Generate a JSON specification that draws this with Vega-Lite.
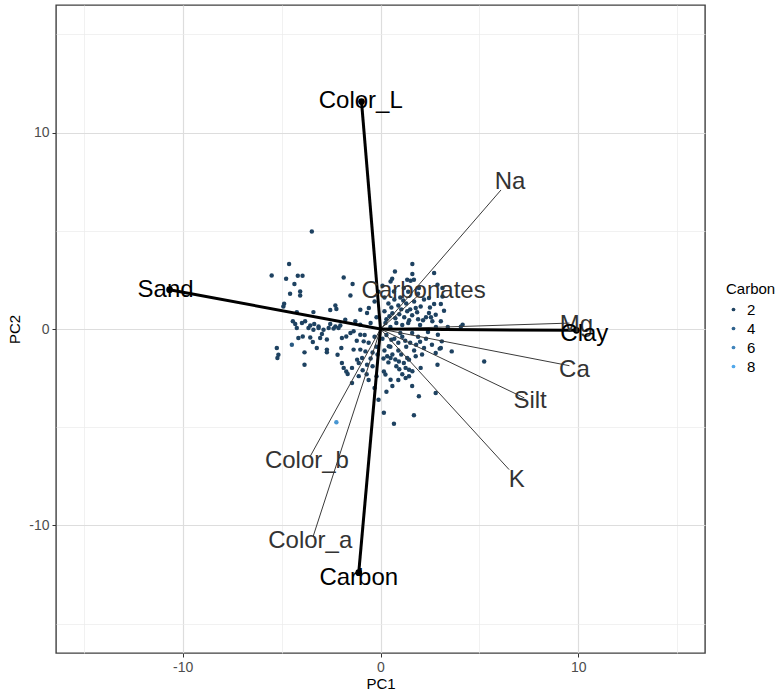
{
  "$schema": "https://vega.github.io/schema/vega-lite/v6.json",
  "width": 649,
  "height": 648,
  "autosize": {"type": "none"},
  "padding": {"left": 56, "top": 5, "right": 75, "bottom": 41},
  "background": "white",
  "config": {"view": {"stroke": "#404040", "strokeWidth": 1.4}, "font": "Liberation Sans"},
  "datasets": {
    "scores": [
      {"PC1": -3.47, "PC2": 4.96, "Carbon": 2}, {"PC1": -4.62, "PC2": 3.31, "Carbon": 2}, {"PC1": -5.5, "PC2": 2.73, "Carbon": 2},
      {"PC1": -4.77, "PC2": 2.56, "Carbon": 2}, {"PC1": -4.18, "PC2": 2.71, "Carbon": 2}, {"PC1": -3.94, "PC2": 2.71, "Carbon": 2},
      {"PC1": -4.35, "PC2": 2.29, "Carbon": 2}, {"PC1": -4.57, "PC2": 1.8, "Carbon": 2}, {"PC1": -4.06, "PC2": 1.91, "Carbon": 2},
      {"PC1": -4.06, "PC2": 1.71, "Carbon": 2}, {"PC1": -1.86, "PC2": 2.62, "Carbon": 2}, {"PC1": -1.41, "PC2": 2.29, "Carbon": 2},
      {"PC1": -1.52, "PC2": 1.71, "Carbon": 2}, {"PC1": -4.87, "PC2": 1.29, "Carbon": 2}, {"PC1": -4.91, "PC2": 1.15, "Carbon": 2},
      {"PC1": -2.28, "PC2": 1.2, "Carbon": 2}, {"PC1": -2.54, "PC2": 0.97, "Carbon": 2}, {"PC1": -3.39, "PC2": 0.86, "Carbon": 2},
      {"PC1": -4.23, "PC2": 0.86, "Carbon": 2}, {"PC1": -1.02, "PC2": 0.98, "Carbon": 2}, {"PC1": -0.68, "PC2": 0.81, "Carbon": 2},
      {"PC1": -0.59, "PC2": 1.07, "Carbon": 2}, {"PC1": -2.23, "PC2": 1.02, "Carbon": 2}, {"PC1": -4.43, "PC2": 0.39, "Carbon": 2},
      {"PC1": -4.31, "PC2": 0.25, "Carbon": 2}, {"PC1": -3.97, "PC2": 0.31, "Carbon": 2}, {"PC1": -3.81, "PC2": 0.39, "Carbon": 2},
      {"PC1": -3.55, "PC2": 0.18, "Carbon": 2}, {"PC1": -3.35, "PC2": 0.25, "Carbon": 2}, {"PC1": -3.13, "PC2": 0.13, "Carbon": 2},
      {"PC1": -2.54, "PC2": 0.25, "Carbon": 2}, {"PC1": -2.28, "PC2": 0.13, "Carbon": 2}, {"PC1": -1.78, "PC2": 0.47, "Carbon": 2},
      {"PC1": -2.03, "PC2": 0.18, "Carbon": 2}, {"PC1": -1.27, "PC2": 0.39, "Carbon": 2}, {"PC1": -1.02, "PC2": 0.22, "Carbon": 2},
      {"PC1": -4.23, "PC2": 0.05, "Carbon": 2}, {"PC1": -3.64, "PC2": 0.05, "Carbon": 2}, {"PC1": -3.39, "PC2": -0.04, "Carbon": 2},
      {"PC1": -3.13, "PC2": 0.05, "Carbon": 2}, {"PC1": -2.88, "PC2": -0.04, "Carbon": 2}, {"PC1": -2.62, "PC2": 0.05, "Carbon": 2},
      {"PC1": -2.37, "PC2": 0.02, "Carbon": 2}, {"PC1": -2.12, "PC2": 0.05, "Carbon": 2},
      {"PC1": -4.15, "PC2": -0.46, "Carbon": 2}, {"PC1": -3.93, "PC2": -0.38, "Carbon": 2}, {"PC1": -3.55, "PC2": -0.43, "Carbon": 2},
      {"PC1": -3.42, "PC2": -0.66, "Carbon": 2}, {"PC1": -3.22, "PC2": -0.97, "Carbon": 2}, {"PC1": -3.05, "PC2": -0.46, "Carbon": 2},
      {"PC1": -2.96, "PC2": -0.25, "Carbon": 2}, {"PC1": -2.71, "PC2": -1.05, "Carbon": 2}, {"PC1": -2.71, "PC2": -1.18, "Carbon": 2},
      {"PC1": -2.71, "PC2": -0.54, "Carbon": 2}, {"PC1": -1.98, "PC2": -0.97, "Carbon": 2}, {"PC1": -2.17, "PC2": -1.31, "Carbon": 2},
      {"PC1": -1.95, "PC2": -1.73, "Carbon": 2}, {"PC1": -1.86, "PC2": -1.98, "Carbon": 2}, {"PC1": -1.73, "PC2": -2.16, "Carbon": 2},
      {"PC1": -1.66, "PC2": -2.29, "Carbon": 2}, {"PC1": -1.44, "PC2": -1.98, "Carbon": 2}, {"PC1": -1.36, "PC2": -1.05, "Carbon": 2},
      {"PC1": -1.02, "PC2": -1.05, "Carbon": 2}, {"PC1": -1.18, "PC2": -1.56, "Carbon": 2}, {"PC1": -1.1, "PC2": -1.73, "Carbon": 2},
      {"PC1": -1.44, "PC2": -2.75, "Carbon": 2}, {"PC1": -1.95, "PC2": -0.46, "Carbon": 2}, {"PC1": -1.73, "PC2": -0.38, "Carbon": 2},
      {"PC1": -1.52, "PC2": -0.2, "Carbon": 2}, {"PC1": -1.36, "PC2": -0.12, "Carbon": 2},
      {"PC1": -5.24, "PC2": -0.97, "Carbon": 2}, {"PC1": -5.16, "PC2": -1.31, "Carbon": 2}, {"PC1": -5.21, "PC2": -1.48, "Carbon": 2},
      {"PC1": -4.48, "PC2": -0.8, "Carbon": 3.5}, {"PC1": -3.84, "PC2": -1.19, "Carbon": 2}, {"PC1": -3.84, "PC2": -1.82, "Carbon": 2},
      {"PC1": -2.23, "PC2": -4.75, "Carbon": 7},
      {"PC1": -1.02, "PC2": -0.29, "Carbon": 2}, {"PC1": -0.85, "PC2": -0.63, "Carbon": 2}, {"PC1": -0.76, "PC2": -1.14, "Carbon": 2},
      {"PC1": -0.93, "PC2": -1.48, "Carbon": 2}, {"PC1": -0.68, "PC2": -1.82, "Carbon": 2},
      {"PC1": 1.61, "PC2": 3.31, "Carbon": 2}, {"PC1": 0.73, "PC2": 2.93, "Carbon": 2}, {"PC1": 1.61, "PC2": 2.8, "Carbon": 2},
      {"PC1": 2.71, "PC2": 2.85, "Carbon": 2}, {"PC1": 1.69, "PC2": 2.51, "Carbon": 2}, {"PC1": 1.18, "PC2": 2.09, "Carbon": 2},
      {"PC1": 1.94, "PC2": 2.09, "Carbon": 2}, {"PC1": 3.13, "PC2": 2.09, "Carbon": 2}, {"PC1": 2.45, "PC2": 1.58, "Carbon": 2},
      {"PC1": 3.13, "PC2": 1.66, "Carbon": 2}, {"PC1": 0.59, "PC2": 2.56, "Carbon": 2}, {"PC1": 0.51, "PC2": 2.42, "Carbon": 2},
      {"PC1": 1.35, "PC2": 2.51, "Carbon": 2}, {"PC1": 1.52, "PC2": 2.46, "Carbon": 2}, {"PC1": 2.88, "PC2": 2.25, "Carbon": 2},
      {"PC1": 0.68, "PC2": 1.91, "Carbon": 2}, {"PC1": 2.71, "PC2": 1.27, "Carbon": 2}, {"PC1": 3.05, "PC2": 1.27, "Carbon": 2},
      {"PC1": 3.21, "PC2": 0.93, "Carbon": 2}, {"PC1": 2.45, "PC2": 0.81, "Carbon": 2}, {"PC1": 2.79, "PC2": 0.73, "Carbon": 2},
      {"PC1": 1.78, "PC2": 1.07, "Carbon": 2}, {"PC1": 2.03, "PC2": 1.15, "Carbon": 2}, {"PC1": 2.62, "PC2": 0.39, "Carbon": 2},
      {"PC1": 3.05, "PC2": 0.39, "Carbon": 2}, {"PC1": 4.15, "PC2": 0.22, "Carbon": 2}, {"PC1": 4.06, "PC2": 0.12, "Carbon": 2},
      {"PC1": 0.3, "PC2": 0.5, "Carbon": 2}, {"PC1": 0.6, "PC2": 0.8, "Carbon": 2}, {"PC1": 0.9, "PC2": 1.2, "Carbon": 2},
      {"PC1": 1.2, "PC2": 0.6, "Carbon": 2}, {"PC1": 1.5, "PC2": 1.0, "Carbon": 2}, {"PC1": 0.4, "PC2": 1.3, "Carbon": 2},
      {"PC1": 1.0, "PC2": 1.6, "Carbon": 2}, {"PC1": 1.9, "PC2": 0.5, "Carbon": 2}, {"PC1": 2.2, "PC2": 1.5, "Carbon": 2},
      {"PC1": 1.4, "PC2": 1.9, "Carbon": 2}, {"PC1": 0.2, "PC2": 0.9, "Carbon": 2}, {"PC1": 0.8, "PC2": 0.3, "Carbon": 2},
      {"PC1": 1.7, "PC2": 1.4, "Carbon": 2}, {"PC1": 2.5, "PC2": 1.1, "Carbon": 2}, {"PC1": 2.0, "PC2": 0.2, "Carbon": 2},
      {"PC1": 1.1, "PC2": 0.2, "Carbon": 2}, {"PC1": 0.5, "PC2": 0.1, "Carbon": 2}, {"PC1": 2.8, "PC2": 0.1, "Carbon": 2},
      {"PC1": 3.4, "PC2": 0.1, "Carbon": 2}, {"PC1": 1.3, "PC2": 1.3, "Carbon": 2}, {"PC1": 0.2, "PC2": 1.6, "Carbon": 2},
      {"PC1": -0.3, "PC2": 1.4, "Carbon": 2}, {"PC1": -0.2, "PC2": 0.6, "Carbon": 2}, {"PC1": -0.5, "PC2": 0.3, "Carbon": 2},
      {"PC1": 0.1, "PC2": 2.2, "Carbon": 2}, {"PC1": -0.1, "PC2": 1.9, "Carbon": 2}, {"PC1": 1.6, "PC2": 0.7, "Carbon": 2},
      {"PC1": 2.3, "PC2": 0.6, "Carbon": 2}, {"PC1": 0.7, "PC2": 1.5, "Carbon": 2}, {"PC1": 1.9, "PC2": 1.8, "Carbon": 2},
      {"PC1": 0.45, "PC2": 0.65, "Carbon": 2}, {"PC1": 0.95, "PC2": 0.75, "Carbon": 2}, {"PC1": 1.35, "PC2": 0.9, "Carbon": 2},
      {"PC1": 1.05, "PC2": 1.0, "Carbon": 2}, {"PC1": 0.55, "PC2": 1.1, "Carbon": 2}, {"PC1": 1.85, "PC2": 0.85, "Carbon": 2},
      {"PC1": 2.15, "PC2": 0.45, "Carbon": 2}, {"PC1": 0.25, "PC2": 0.3, "Carbon": 2}, {"PC1": 0.75, "PC2": 0.55, "Carbon": 2},
      {"PC1": 1.45, "PC2": 0.45, "Carbon": 2}, {"PC1": 2.55, "PC2": 0.6, "Carbon": 2}, {"PC1": 1.15, "PC2": 1.45, "Carbon": 2},
      {"PC1": 2.9, "PC2": -0.29, "Carbon": 2}, {"PC1": 3.1, "PC2": -0.63, "Carbon": 2}, {"PC1": 3.6, "PC2": -1.14, "Carbon": 2},
      {"PC1": 2.99, "PC2": -1.0, "Carbon": 2}, {"PC1": 2.79, "PC2": -1.22, "Carbon": 2}, {"PC1": 2.88, "PC2": -1.82, "Carbon": 2},
      {"PC1": 1.78, "PC2": -1.39, "Carbon": 2}, {"PC1": 2.2, "PC2": -0.97, "Carbon": 2}, {"PC1": 0.42, "PC2": -0.88, "Carbon": 2},
      {"PC1": 0.34, "PC2": -1.39, "Carbon": 2}, {"PC1": 0.51, "PC2": -1.48, "Carbon": 2}, {"PC1": 0.93, "PC2": -1.65, "Carbon": 2},
      {"PC1": 1.18, "PC2": -1.73, "Carbon": 2}, {"PC1": 1.35, "PC2": -1.48, "Carbon": 2}, {"PC1": 1.44, "PC2": -1.56, "Carbon": 2},
      {"PC1": 1.27, "PC2": -1.98, "Carbon": 2}, {"PC1": 1.44, "PC2": -2.07, "Carbon": 2}, {"PC1": 1.27, "PC2": -2.49, "Carbon": 2},
      {"PC1": 1.44, "PC2": -2.41, "Carbon": 2}, {"PC1": 0.17, "PC2": -2.16, "Carbon": 2}, {"PC1": 0.25, "PC2": -2.32, "Carbon": 2},
      {"PC1": 0.51, "PC2": -2.58, "Carbon": 2}, {"PC1": 1.94, "PC2": -3.43, "Carbon": 2}, {"PC1": 2.79, "PC2": -3.26, "Carbon": 2},
      {"PC1": 0.17, "PC2": -4.27, "Carbon": 2}, {"PC1": 1.69, "PC2": -4.39, "Carbon": 2}, {"PC1": 0.68, "PC2": -4.83, "Carbon": 2},
      {"PC1": 5.24, "PC2": -1.65, "Carbon": 2}, {"PC1": 3.05, "PC2": -0.97, "Carbon": 2}, {"PC1": 2.03, "PC2": -1.98, "Carbon": 2},
      {"PC1": 1.61, "PC2": -2.15, "Carbon": 2},
      {"PC1": 0.3, "PC2": -0.3, "Carbon": 2}, {"PC1": 0.7, "PC2": -0.5, "Carbon": 2}, {"PC1": 1.1, "PC2": -0.4, "Carbon": 2},
      {"PC1": 1.5, "PC2": -0.7, "Carbon": 2}, {"PC1": 1.9, "PC2": -0.4, "Carbon": 2}, {"PC1": 2.3, "PC2": -0.5, "Carbon": 2},
      {"PC1": 0.5, "PC2": -0.9, "Carbon": 2}, {"PC1": 0.9, "PC2": -1.1, "Carbon": 2}, {"PC1": 1.3, "PC2": -0.9, "Carbon": 2},
      {"PC1": 1.7, "PC2": -1.1, "Carbon": 2}, {"PC1": 2.1, "PC2": -1.3, "Carbon": 2}, {"PC1": 0.2, "PC2": -1.1, "Carbon": 2},
      {"PC1": 0.6, "PC2": -1.3, "Carbon": 2}, {"PC1": 1.0, "PC2": -0.2, "Carbon": 2}, {"PC1": 1.6, "PC2": -0.2, "Carbon": 2},
      {"PC1": 2.4, "PC2": -0.15, "Carbon": 2}, {"PC1": 0.8, "PC2": -1.9, "Carbon": 2}, {"PC1": 0.4, "PC2": -1.7, "Carbon": 2},
      {"PC1": 1.1, "PC2": -2.3, "Carbon": 2}, {"PC1": 0.6, "PC2": -2.9, "Carbon": 2}, {"PC1": 0.9, "PC2": -2.6, "Carbon": 2},
      {"PC1": 1.6, "PC2": -2.9, "Carbon": 2}, {"PC1": 0.3, "PC2": -3.2, "Carbon": 2}, {"PC1": -0.2, "PC2": -2.4, "Carbon": 2},
      {"PC1": -0.4, "PC2": -1.9, "Carbon": 2}, {"PC1": -0.3, "PC2": -3.0, "Carbon": 2}, {"PC1": -0.6, "PC2": -2.6, "Carbon": 2},
      {"PC1": -0.1, "PC2": -3.6, "Carbon": 2}, {"PC1": -0.3, "PC2": -0.4, "Carbon": 2}, {"PC1": -0.6, "PC2": -0.7, "Carbon": 2},
      {"PC1": -0.4, "PC2": -1.2, "Carbon": 2}, {"PC1": -0.8, "PC2": -0.3, "Carbon": 2}, {"PC1": -1.2, "PC2": -0.6, "Carbon": 2},
      {"PC1": -0.2, "PC2": -0.9, "Carbon": 2}, {"PC1": -0.9, "PC2": -2.1, "Carbon": 2}, {"PC1": -0.7, "PC2": -2.3, "Carbon": 2},
      {"PC1": -1.1, "PC2": -2.4, "Carbon": 2}, {"PC1": 0.9, "PC2": -0.7, "Carbon": 2}, {"PC1": 1.8, "PC2": -0.8, "Carbon": 2},
      {"PC1": 2.6, "PC2": -0.8, "Carbon": 2}, {"PC1": 0.1, "PC2": -0.5, "Carbon": 2}, {"PC1": 1.4, "PC2": 0.3, "Carbon": 2},
      {"PC1": 0.55, "PC2": -0.55, "Carbon": 2}, {"PC1": 1.25, "PC2": -0.6, "Carbon": 2}, {"PC1": 0.75, "PC2": -1.55, "Carbon": 2},
      {"PC1": 1.05, "PC2": -1.3, "Carbon": 2}, {"PC1": 0.15, "PC2": -1.5, "Carbon": 2}, {"PC1": -0.15, "PC2": -1.3, "Carbon": 2},
      {"PC1": -0.5, "PC2": -1.5, "Carbon": 2}, {"PC1": 2.0, "PC2": -0.65, "Carbon": 2}, {"PC1": 0.95, "PC2": -2.05, "Carbon": 2}
    ],
    "loadings": [
      {"name": "Color_L", "PC1": -0.96, "PC2": 11.58, "lx": -1.0, "ly": 11.62, "group": "thick"},
      {"name": "Sand", "PC1": -10.66, "PC2": 2.0, "lx": -10.86, "ly": 2.0, "group": "thick"},
      {"name": "Clay", "PC1": 9.9, "PC2": -0.07, "lx": 10.3, "ly": -0.25, "group": "thick"},
      {"name": "Carbon", "PC1": -1.1, "PC2": -12.41, "lx": -1.1, "ly": -12.67, "group": "thick"},
      {"name": "Na", "PC1": 6.09, "PC2": 7.08, "lx": 6.55, "ly": 7.5, "group": "thin"},
      {"name": "Carbonates", "PC1": 1.9, "PC2": 1.7, "lx": 2.18, "ly": 1.91, "group": "thin"},
      {"name": "Mg", "PC1": 9.55, "PC2": 0.3, "lx": 9.9, "ly": 0.22, "group": "thin"},
      {"name": "Ca", "PC1": 9.55, "PC2": -1.87, "lx": 9.8, "ly": -2.07, "group": "thin"},
      {"name": "Silt", "PC1": 7.27, "PC2": -3.51, "lx": 7.56, "ly": -3.68, "group": "thin"},
      {"name": "K", "PC1": 6.5, "PC2": -7.16, "lx": 6.89, "ly": -7.67, "group": "thin"},
      {"name": "Color_b", "PC1": -3.55, "PC2": -6.48, "lx": -3.72, "ly": -6.73, "group": "thin"},
      {"name": "Color_a", "PC1": -3.4, "PC2": -10.55, "lx": -3.55, "ly": -10.8, "group": "thin"}
    ]
  },
  "layer": [
    {
      "data": {"name": "scores"},
      "mark": {"type": "circle", "size": 20, "opacity": 1},
      "encoding": {
        "x": {
          "field": "PC1", "type": "quantitative",
          "scale": {"domain": [-16.4, 16.4], "nice": false, "zero": false},
          "axis": {
            "title": "PC1", "values": [-15, -10, -5, 0, 5, 10, 15],
            "labelExpr": "datum.value % 10 == 0 ? toString(datum.value) : ''",
            "domain": false, "tickSize": 4,
            "tickColor": {"condition": {"test": "datum.value % 10 != 0", "value": "transparent"}, "value": "#333333"},
            "gridColor": {"condition": {"test": "datum.value % 10 != 0", "value": "#ebebeb"}, "value": "#dddddd"},
            "gridWidth": {"condition": {"test": "datum.value % 10 != 0", "value": 0.7}, "value": 1.2},
            "labelFontSize": 14, "labelColor": "#4d4d4d", "labelPadding": 3,
            "titleFontSize": 15, "titleColor": "#000000", "titleFontWeight": "normal", "titlePadding": 2
          }
        },
        "y": {
          "field": "PC2", "type": "quantitative",
          "scale": {"domain": [-16.5, 16.5], "nice": false, "zero": false},
          "axis": {
            "title": "PC2", "values": [-15, -10, -5, 0, 5, 10, 15],
            "labelExpr": "datum.value % 10 == 0 ? toString(datum.value) : ''",
            "domain": false, "tickSize": 4,
            "tickColor": {"condition": {"test": "datum.value % 10 != 0", "value": "transparent"}, "value": "#333333"},
            "gridColor": {"condition": {"test": "datum.value % 10 != 0", "value": "#ebebeb"}, "value": "#dddddd"},
            "gridWidth": {"condition": {"test": "datum.value % 10 != 0", "value": 0.7}, "value": 1.2},
            "labelFontSize": 14, "labelColor": "#4d4d4d", "labelPadding": 3,
            "titleFontSize": 15, "titleColor": "#000000", "titleFontWeight": "normal", "titlePadding": 6
          }
        },
        "color": {
          "field": "Carbon", "type": "quantitative",
          "scale": {"domain": [0.5, 8.5], "range": ["#132B43", "#56B1F7"], "interpolate": "lab"},
          "legend": {
            "type": "symbol", "values": [2, 4, 6, 8], "title": "Carbon",
            "orient": "none", "legendX": 670, "legendY": 277,
            "symbolType": "circle", "symbolSize": 14, "symbolStrokeWidth": 0,
            "titleFontSize": 15, "titleFontWeight": "normal", "titleColor": "#000000",
            "labelFontSize": 15, "labelColor": "#000000", "rowPadding": 3, "labelOffset": 6
          }
        }
      }
    },
    {
      "data": {"name": "loadings"},
      "transform": [{"filter": "datum.group == 'thin'"}],
      "mark": {"type": "rule", "color": "#3a3a3a", "strokeWidth": 1},
      "encoding": {
        "x": {"field": "PC1", "type": "quantitative", "scale": {"domain": [-16.4, 16.4], "nice": false, "zero": false}, "title": "PC1"},
        "y": {"field": "PC2", "type": "quantitative", "scale": {"domain": [-16.5, 16.5], "nice": false, "zero": false}, "title": "PC2"},
        "x2": {"datum": 0},
        "y2": {"datum": 0}
      }
    },
    {
      "data": {"name": "loadings"},
      "transform": [{"filter": "datum.group == 'thick'"}],
      "mark": {"type": "rule", "color": "#000000", "strokeWidth": 3},
      "encoding": {
        "x": {"field": "PC1", "type": "quantitative", "scale": {"domain": [-16.4, 16.4], "nice": false, "zero": false}, "title": "PC1"},
        "y": {"field": "PC2", "type": "quantitative", "scale": {"domain": [-16.5, 16.5], "nice": false, "zero": false}, "title": "PC2"},
        "x2": {"datum": 0},
        "y2": {"datum": 0}
      }
    },
    {
      "data": {"name": "loadings"},
      "transform": [{"filter": "datum.group == 'thick'"}],
      "mark": {"type": "circle", "color": "#000000", "size": 45, "opacity": 1},
      "encoding": {
        "x": {"field": "PC1", "type": "quantitative", "scale": {"domain": [-16.4, 16.4], "nice": false, "zero": false}, "title": "PC1"},
        "y": {"field": "PC2", "type": "quantitative", "scale": {"domain": [-16.5, 16.5], "nice": false, "zero": false}, "title": "PC2"}
      }
    },
    {
      "data": {"name": "loadings"},
      "transform": [{"filter": "datum.group == 'thin'"}],
      "mark": {"type": "text", "fontSize": 24, "font": "Liberation Sans", "color": "#333333", "align": "center", "baseline": "middle"},
      "encoding": {
        "x": {"field": "lx", "type": "quantitative", "scale": {"domain": [-16.4, 16.4], "nice": false, "zero": false}, "title": "PC1"},
        "y": {"field": "ly", "type": "quantitative", "scale": {"domain": [-16.5, 16.5], "nice": false, "zero": false}, "title": "PC2"},
        "text": {"field": "name"}
      }
    },
    {
      "data": {"name": "loadings"},
      "transform": [{"filter": "datum.group == 'thick'"}],
      "mark": {"type": "text", "fontSize": 24, "font": "Liberation Sans", "color": "#000000", "align": "center", "baseline": "middle"},
      "encoding": {
        "x": {"field": "lx", "type": "quantitative", "scale": {"domain": [-16.4, 16.4], "nice": false, "zero": false}, "title": "PC1"},
        "y": {"field": "ly", "type": "quantitative", "scale": {"domain": [-16.5, 16.5], "nice": false, "zero": false}, "title": "PC2"},
        "text": {"field": "name"}
      }
    }
  ]
}
